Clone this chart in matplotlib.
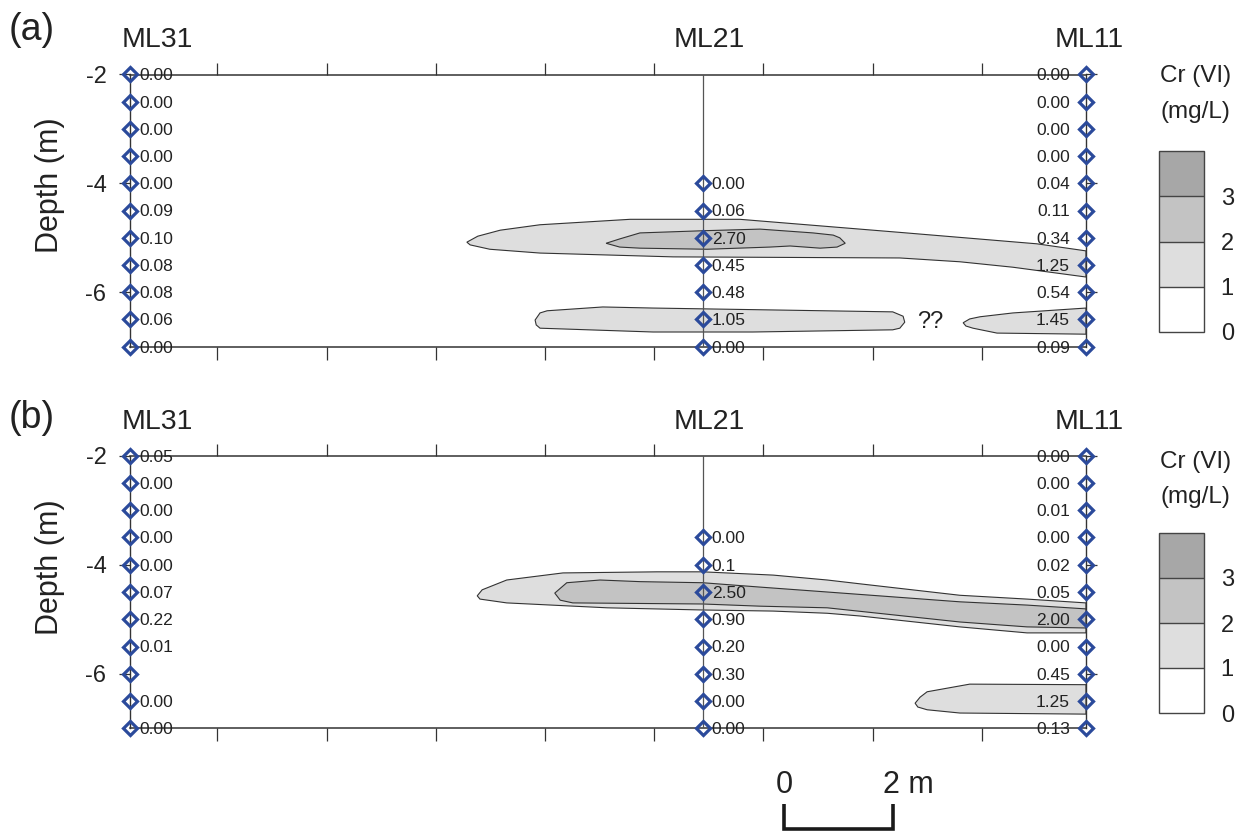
import matplotlib
matplotlib.use('Agg')
import matplotlib.pyplot as plt
import matplotlib as mpl
from matplotlib.colors import ListedColormap, BoundaryNorm
from matplotlib.patches import Polygon
import numpy as np

plt.rcParams['font.family'] = ['Liberation Sans', 'DejaVu Sans']
plt.rcParams['axes.unicode_minus'] = False

# ---------------- data ----------------
wells = ['ML31', 'ML21', 'ML11']
well_x = [0.4, 10.89, 17.91]          # horizontal position of wells (m)
x_ticks = [2, 4, 6, 8, 10, 12, 14, 16]
depth_ticks = [-2, -4, -6]
depths = [-2.0, -2.5, -3.0, -3.5, -4.0, -4.5, -5.0, -5.5, -6.0, -6.5, -7.0]
depths_ml21_a = depths[4:]
depths_ml21_b = depths[3:]

# panel (a) Cr(VI) concentrations (mg/L)
a_ml31 = ['0.00', '0.00', '0.00', '0.00', '0.00', '0.09', '0.10', '0.08', '0.08', '0.06', '0.00']
a_ml21 = ['0.00', '0.06', '2.70', '0.45', '0.48', '1.05', '0.00']
a_ml11 = ['0.00', '0.00', '0.00', '0.00', '0.04', '0.11', '0.34', '1.25', '0.54', '1.45', '0.09']

# panel (b)
b_ml31 = ['0.05', '0.00', '0.00', '0.00', '0.00', '0.07', '0.22', '0.01', None, '0.00', '0.00']
b_ml21 = ['0.00', '0.1', '2.50', '0.90', '0.20', '0.30', '0.00', '0.00']
b_ml11 = ['0.00', '0.00', '0.01', '0.00', '0.02', '0.05', '2.00', '0.00', '0.45', '1.25', '0.13']

# contour outlines (x in m, depth in m)
a_c1_upper_x = [6.57, 6.77, 7.18, 7.91, 9.56, 11.57, 12.67, 14.50, 17.01, 17.91,
                17.91, 16.57, 15.60, 14.50, 10.35, 7.91, 6.99, 6.63]
a_c1_upper_y = [-5.08, -4.97, -4.86, -4.76, -4.66, -4.66, -4.75, -4.90, -5.11, -5.24,
                -5.72, -5.54, -5.44, -5.37, -5.35, -5.28, -5.21, -5.13]
a_c2_x = [9.12, 9.37, 9.74, 10.89, 11.94, 12.91, 13.28, 13.40, 13.50,
          13.35, 13.04, 12.49, 12.12, 10.97, 9.74, 9.37]
a_c2_y = [-5.10, -5.02, -4.91, -4.87, -4.84, -4.91, -4.95, -5.00, -5.10,
          -5.17, -5.19, -5.15, -5.17, -5.21, -5.19, -5.17]
a_c1_lowleft_x = [7.82, 7.91, 8.04, 9.06, 9.98, 14.37, 14.56, 14.59, 14.50, 14.37, 11.81, 9.98, 7.91, 7.84]
a_c1_lowleft_y = [-6.51, -6.38, -6.34, -6.27, -6.29, -6.36, -6.44, -6.55, -6.66, -6.69, -6.73, -6.73, -6.66, -6.60]
a_c1_lowright_x = [15.66, 15.78, 15.97, 16.57, 17.91, 17.91, 16.28, 15.84, 15.71]
a_c1_lowright_y = [-6.56, -6.49, -6.45, -6.38, -6.29, -6.77, -6.75, -6.66, -6.62]

b_c1_upper_x = [6.76, 6.85, 7.30, 8.33, 10.05, 10.89, 12.18, 13.17, 13.77, 15.60, 16.83, 17.91,
                17.91, 16.83, 15.60, 13.77, 13.17, 12.18, 10.89, 9.14, 7.30, 6.81]
b_c1_upper_y = [-4.57, -4.46, -4.28, -4.15, -4.13, -4.13, -4.19, -4.28, -4.35, -4.56, -4.63, -4.70,
                -5.25, -5.25, -5.14, -4.94, -4.89, -4.85, -4.83, -4.79, -4.70, -4.63]
b_c2_x = [8.18, 8.40, 9.01, 9.74, 10.89, 11.94, 13.17, 15.60, 16.83, 17.91,
          17.91, 16.83, 15.60, 13.17, 11.94, 10.89, 8.51, 8.28]
b_c2_y = [-4.52, -4.33, -4.28, -4.31, -4.33, -4.41, -4.50, -4.68, -4.74, -4.81,
          -5.16, -5.14, -5.05, -4.79, -4.76, -4.72, -4.70, -4.65]
b_c1_low_x = [14.78, 14.87, 15.00, 15.78, 17.91, 17.91, 15.60, 15.00, 14.83]
b_c1_low_y = [-6.54, -6.43, -6.33, -6.19, -6.20, -6.74, -6.72, -6.66, -6.61]

levels = [0, 1, 2, 3, 4]
level_ticks = [0, 1, 2, 3]
level_colors = ['#ffffff', '#dedede', '#c3c3c3', '#a7a7a7']

scale_start = 12.38
scale_len = 2.0

# ---------------- figure ----------------
W, H = 1247, 834
fig = plt.figure(figsize=(W / 100, H / 100), dpi=100)

MARK = '#2b4a9b'
TXT = '#222222'
LINE = '#333333'


def px_axes(left, right, top, bottom):
    return fig.add_axes([left / W, 1 - bottom / H, (right - left) / W, (bottom - top) / H])


def draw_panel(ax, ml31, ml21, d21, ml11, outer, inner):
    ax.set_xlim(well_x[0], well_x[2])
    ax.set_ylim(-7, -2)
    for xs, ys in outer:
        ax.add_patch(Polygon(np.column_stack([xs, ys]), closed=True, fc=level_colors[1],
                             ec=LINE, lw=0.8, zorder=1))
    for xs, ys in inner:
        ax.add_patch(Polygon(np.column_stack([xs, ys]), closed=True, fc=level_colors[2],
                             ec=LINE, lw=0.8, zorder=2))
    ax.plot([well_x[1], well_x[1]], [-2, -7], color='#555555', lw=0.9, zorder=3)
    for x, vals, dd, side in [(well_x[0], ml31, depths, 'r'), (well_x[1], ml21, d21, 'r'),
                              (well_x[2], ml11, depths, 'l')]:
        ax.plot([x] * len(dd), dd, ls='none', marker='D', ms=7.6, mew=2.3, mec=MARK,
                mfc='none', clip_on=False, zorder=5)
        for v, d in zip(vals, dd):
            if v is None:
                continue
            if side == 'r':
                ax.annotate(v, xy=(x, d), xytext=(6.5, -1), textcoords='offset points',
                            ha='left', va='center', fontsize=12.5, color=TXT,
                            annotation_clip=False, zorder=6)
            else:
                ax.annotate(v, xy=(x, d), xytext=(-11.5, -1), textcoords='offset points',
                            ha='right', va='center', fontsize=12.5, color=TXT,
                            annotation_clip=False, zorder=6)
    for name, x, dx in zip(wells, well_x, [19.5, 5, 2]):
        ax.annotate(name, xy=(x, -2), xytext=(dx, 24.5), textcoords='offset points',
                    ha='center', va='center', fontsize=20.5, color=TXT, annotation_clip=False)
    ax.set_xticks(x_ticks)
    ax.set_yticks(depth_ticks)
    ax.tick_params(axis='x', top=True, bottom=True, labelbottom=False, labeltop=False,
                   direction='out', length=9, width=0.9, color=LINE)
    ax.tick_params(axis='y', left=True, right=True, labelleft=True, labelright=False,
                   direction='out', length=8, width=0.9, color=LINE, pad=9,
                   labelsize=17, labelcolor=TXT)
    for s in ['top', 'bottom']:
        ax.spines[s].set_linewidth(1.1)
        ax.spines[s].set_color(LINE)
    for s in ['left', 'right']:
        ax.spines[s].set_linewidth(1.0)
        ax.spines[s].set_color(LINE)
    ax.set_facecolor('none')


def draw_legend(top, bottom, text_y1, text_y2):
    cax = px_axes(1159, 1204, top, bottom)
    cmap = ListedColormap(level_colors)
    norm = BoundaryNorm(levels, cmap.N)
    cb = mpl.colorbar.ColorbarBase(cax, cmap=cmap, norm=norm, ticks=level_ticks, drawedges=True)
    cb.minorticks_off()
    cb.outline.set_linewidth(1.0)
    cb.outline.set_edgecolor('#444444')
    cb.dividers.set_linewidth(1.0)
    cb.dividers.set_color('#444444')
    cax.tick_params(which='both', length=0, width=0, labelsize=17, pad=12, labelcolor=TXT)
    fig.text(1160 / W, 1 - text_y1 / H, 'Cr (VI)', ha='left', va='center', fontsize=17.5, color=TXT)
    fig.text(1160 / W, 1 - text_y2 / H, '(mg/L)', ha='left', va='center', fontsize=17.5, color=TXT)


ax_a = px_axes(130, 1086, 74.5, 346.7)
draw_panel(ax_a, a_ml31, a_ml21, depths_ml21_a, a_ml11,
           [(a_c1_upper_x, a_c1_upper_y), (a_c1_lowleft_x, a_c1_lowleft_y),
            (a_c1_lowright_x, a_c1_lowright_y)],
           [(a_c2_x, a_c2_y)])
ax_a.text(15.05, -6.55, '??', ha='center', va='center', fontsize=17, color=TXT)

ax_b = px_axes(130, 1086, 455.7, 728.3)
draw_panel(ax_b, b_ml31, b_ml21, depths_ml21_b, b_ml11,
           [(b_c1_upper_x, b_c1_upper_y), (b_c1_low_x, b_c1_low_y)],
           [(b_c2_x, b_c2_y)])

draw_legend(151, 332, 76, 112)
draw_legend(533, 713, 462, 497)

fig.text(32 / W, 1 - 30 / H, '(a)', ha='center', va='center', fontsize=27, color=TXT)
fig.text(32 / W, 1 - 418 / H, '(b)', ha='center', va='center', fontsize=27, color=TXT)
fig.text(50 / W, 1 - 185 / H, 'Depth (m)', rotation=90, ha='center', va='center', fontsize=22, color=TXT)
fig.text(50 / W, 1 - 567 / H, 'Depth (m)', rotation=90, ha='center', va='center', fontsize=22, color=TXT)

# scale bar (2 m) in panel (b) data units
ax_b.plot([scale_start, scale_start, scale_start + scale_len, scale_start + scale_len],
          [-8.39, -8.85, -8.85, -8.39], color='#1a1a1a', lw=2.6, clip_on=False,
          solid_joinstyle='miter', solid_capstyle='butt')
ax_b.text(scale_start, -8.04, '0', ha='center', va='center', fontsize=22, color=TXT, clip_on=False)
ax_b.text(scale_start + scale_len - 0.19, -8.04, '2 m', ha='left', va='center', fontsize=22,
          color=TXT, clip_on=False)

fig.savefig('out.png', dpi=100)
